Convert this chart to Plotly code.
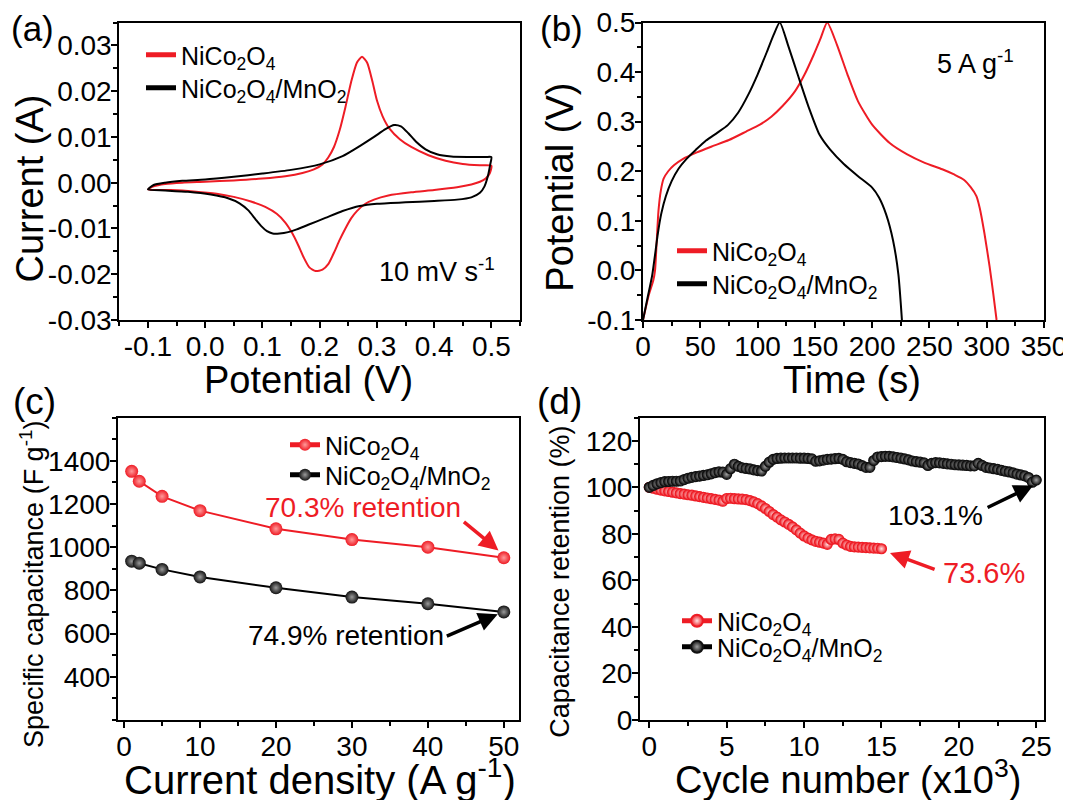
import plotly.graph_objects as go

# ---------------- data ----------------
# (a) CV curves at 10 mV/s
cv_red_fwd_v = [-0.100, -0.090, -0.070, -0.040, 0.000, 0.050, 0.100, 0.140, 0.170, 0.190, 0.205, 0.215, 0.225, 0.235, 0.245, 0.255, 0.265, 0.274, 0.283, 0.292, 0.300, 0.310, 0.322, 0.340, 0.360, 0.390, 0.420, 0.450, 0.480, 0.500]
cv_red_fwd_i = [-0.0015, -0.0008, -0.0003, 0.0000, 0.0002, 0.0005, 0.0009, 0.0014, 0.0021, 0.0029, 0.0040, 0.0055, 0.0078, 0.0115, 0.0165, 0.0220, 0.0262, 0.0275, 0.0262, 0.0222, 0.0180, 0.0145, 0.0118, 0.0095, 0.0078, 0.0060, 0.0048, 0.0041, 0.0038, 0.0037]
cv_red_rev_v = [0.500, 0.497, 0.490, 0.480, 0.465, 0.440, 0.400, 0.360, 0.320, 0.295, 0.280, 0.265, 0.255, 0.245, 0.235, 0.225, 0.215, 0.205, 0.193, 0.182, 0.172, 0.162, 0.152, 0.140, 0.125, 0.105, 0.080, 0.050, 0.020, -0.020, -0.060, -0.100]
cv_red_rev_i = [0.0037, 0.0020, 0.0009, 0.0002, -0.0004, -0.0010, -0.0016, -0.0021, -0.0028, -0.0037, -0.0046, -0.0062, -0.0078, -0.0100, -0.0125, -0.0153, -0.0178, -0.0190, -0.0193, -0.0185, -0.0163, -0.0135, -0.0110, -0.0087, -0.0068, -0.0053, -0.0041, -0.0031, -0.0024, -0.0019, -0.0016, -0.0015]
cv_blk_fwd_v = [-0.100, -0.090, -0.070, -0.040, 0.000, 0.050, 0.100, 0.150, 0.200, 0.240, 0.270, 0.295, 0.315, 0.330, 0.342, 0.355, 0.368, 0.385, 0.405, 0.430, 0.460, 0.490, 0.500]
cv_blk_fwd_i = [-0.0015, -0.0005, 0.0000, 0.0004, 0.0007, 0.0013, 0.0020, 0.0028, 0.0040, 0.0058, 0.0080, 0.0100, 0.0117, 0.0126, 0.0123, 0.0108, 0.0090, 0.0073, 0.0062, 0.0057, 0.0056, 0.0056, 0.0056]
cv_blk_rev_v = [0.500, 0.498, 0.494, 0.488, 0.480, 0.465, 0.440, 0.400, 0.350, 0.300, 0.270, 0.240, 0.210, 0.180, 0.160, 0.145, 0.130, 0.118, 0.108, 0.098, 0.088, 0.075, 0.060, 0.040, 0.010, -0.030, -0.070, -0.100]
cv_blk_rev_i = [0.0055, 0.0040, 0.0015, -0.0008, -0.0022, -0.0032, -0.0037, -0.0040, -0.0043, -0.0046, -0.0051, -0.0062, -0.0077, -0.0092, -0.0102, -0.0108, -0.0111, -0.0111, -0.0106, -0.0095, -0.0080, -0.0060, -0.0045, -0.0034, -0.0026, -0.0020, -0.0017, -0.0015]

# (b) GCD curves at 5 A/g
gcd_red_t = [0, 5, 9, 10.5, 12, 13.5, 15.5, 18, 22, 27, 35, 47, 60, 75, 90, 102, 112, 122, 132.6, 141, 149, 155, 160.8, 169.3, 178.5, 187.7, 200, 215.3, 230.6, 245.9, 261.2, 272, 280, 286, 291, 294, 298, 302.5, 305.6, 308.6]
gcd_red_v = [-0.1, -0.05, -0.02, 0.0, 0.06, 0.12, 0.16, 0.185, 0.2, 0.212, 0.225, 0.238, 0.25, 0.263, 0.28, 0.294, 0.31, 0.332, 0.361, 0.395, 0.435, 0.468, 0.5, 0.455, 0.395, 0.341, 0.294, 0.257, 0.234, 0.217, 0.204, 0.193, 0.183, 0.168, 0.150, 0.125, 0.075, 0.008, -0.045, -0.1]
gcd_blk_t = [0, 4, 8, 11, 13, 16, 20, 25, 31, 38, 46, 55, 65, 74, 83, 92, 100, 108, 114, 119.4, 126.5, 135.6, 144.8, 154, 163.2, 175.5, 187.7, 200, 206, 212.2, 218.3, 222.9, 226]
gcd_blk_v = [-0.1, -0.055, -0.01, 0.04, 0.075, 0.115, 0.15, 0.18, 0.205, 0.225, 0.243, 0.262, 0.278, 0.293, 0.318, 0.355, 0.395, 0.44, 0.475, 0.5, 0.455, 0.391, 0.328, 0.274, 0.244, 0.214, 0.19, 0.167, 0.147, 0.113, 0.06, -0.008, -0.1]

# (c) rate capability
current_density = [1, 2, 5, 10, 20, 30, 40, 50]
cap_red = [1351, 1305, 1235, 1169, 1085, 1035, 1000, 951]
cap_blk = [935, 926, 897, 862, 812, 769, 738, 700]

# (d) cycling stability (x1000 cycles)
cyc_red_x = [i * 0.25 for i in range(61)]
cyc_red_y = [100.0, 99.6, 99.2, 98.8, 98.5, 98.2, 97.9, 97.6, 97.3, 97.1,
             96.8, 96.6, 96.3, 96.0, 95.7, 95.4, 95.1, 94.8, 94.5, 94.0,
             95.2, 95.3, 95.1, 95.0, 94.9, 94.7, 94.3, 93.7, 93.0, 92.0,
             90.9, 89.6, 88.3, 87.2, 86.0, 85.1, 84.1, 83.0, 81.7, 80.3,
             79.1, 78.2, 77.4, 76.8, 76.4, 76.0, 75.5, 77.6, 77.8, 77.6,
             76.0, 75.2, 74.6, 74.4, 74.3, 74.2, 74.1, 74.0, 73.9, 73.8, 73.6]
cyc_blk_x = [i * 0.25 for i in range(101)]
cyc_blk_y = [100.0, 100.8, 101.5, 102.0, 102.4, 102.5, 102.6, 102.6, 102.7, 103.3,
             103.9, 104.3, 104.6, 104.8, 105.1, 105.4, 105.8, 106.3, 106.6, 106.5,
             105.6, 108.0, 109.9, 109.0, 108.4, 108.1, 107.9, 107.5, 107.2, 107.0,
             109.0, 110.8, 112.0, 112.4, 112.5, 112.6, 112.6, 112.6, 112.6, 112.5,
             112.5, 112.4, 112.2, 111.2, 111.4, 111.7, 112.0, 112.1, 112.3, 112.4,
             112.0, 111.0, 110.6, 110.3, 110.0, 109.3, 108.6, 108.6, 111.5, 113.0,
             113.2, 113.3, 113.3, 113.1, 112.8, 112.5, 112.2, 111.8, 111.3, 111.0,
             110.8, 110.5, 109.4, 110.3, 110.6, 110.5, 110.3, 110.1, 109.9, 109.7,
             109.6, 109.5, 109.4, 109.2, 109.2, 110.3, 109.4, 108.6, 108.3, 108.0,
             107.7, 107.3, 106.9, 106.6, 106.2, 105.7, 105.3, 104.9, 104.2, 102.2, 103.1]

name_a = "NiCo<sub>2</sub>O<sub>4</sub>"
name_b = "NiCo<sub>2</sub>O<sub>4</sub>/MnO<sub>2</sub>"

RED = "#ee1c25"
BLK = "#000000"
FONT = "Liberation Sans, Arial, sans-serif"
W, H = 1071, 800
OFF = 8  # page body margin offset


def px(x):
    return (x - OFF) / W


def py(y):
    return 1 - (y - OFF) / H


fig = go.Figure()

# (a)
fig.add_trace(go.Scatter(x=cv_red_fwd_v + cv_red_rev_v[1:], y=cv_red_fwd_i + cv_red_rev_i[1:],
                         mode="lines", line=dict(color=RED, width=2, shape="spline", smoothing=0.6),
                         name=name_a, xaxis="x", yaxis="y", legend="legend"))
fig.add_trace(go.Scatter(x=cv_blk_fwd_v + cv_blk_rev_v[1:], y=cv_blk_fwd_i + cv_blk_rev_i[1:],
                         mode="lines", line=dict(color=BLK, width=2, shape="spline", smoothing=0.6),
                         name=name_b, xaxis="x", yaxis="y", legend="legend2"))
# (b)
fig.add_trace(go.Scatter(x=gcd_red_t, y=gcd_red_v, mode="lines",
                         line=dict(color=RED, width=2, shape="spline", smoothing=0.6),
                         name=name_a, xaxis="x2", yaxis="y2", legend="legend3"))
fig.add_trace(go.Scatter(x=gcd_blk_t, y=gcd_blk_v, mode="lines",
                         line=dict(color=BLK, width=2, shape="spline", smoothing=0.6),
                         name=name_b, xaxis="x2", yaxis="y2", legend="legend4"))
# (c)
fig.add_trace(go.Scatter(x=current_density, y=cap_red, mode="lines+markers",
                         line=dict(color=RED, width=2),
                         marker=dict(size=13, color=RED, gradient=dict(type="radial", color="#ff9a9a"),
                                     line=dict(width=0)),
                         name=name_a, xaxis="x3", yaxis="y3", legend="legend5"))
fig.add_trace(go.Scatter(x=current_density, y=cap_blk, mode="lines+markers",
                         line=dict(color=BLK, width=2),
                         marker=dict(size=13, color="#111111", gradient=dict(type="radial", color="#9a9a9a"),
                                     line=dict(width=0)),
                         name=name_b, xaxis="x3", yaxis="y3", legend="legend6"))
# (d)
fig.add_trace(go.Scatter(x=cyc_red_x, y=cyc_red_y, mode="lines+markers",
                         line=dict(color=RED, width=2),
                         marker=dict(size=10, color=RED, gradient=dict(type="radial", color="#ffe0e0"),
                                     line=dict(width=1.2, color=RED)),
                         name=name_a, xaxis="x4", yaxis="y4", legend="legend7"))
fig.add_trace(go.Scatter(x=cyc_blk_x, y=cyc_blk_y, mode="lines+markers",
                         line=dict(color=BLK, width=2),
                         marker=dict(size=10, color="#111111", gradient=dict(type="radial", color="#a0a0a0"),
                                     line=dict(width=1.2, color="#111111")),
                         name=name_b, xaxis="x4", yaxis="y4", legend="legend8"))


def axis(domain, rng, tickvals, ticktext, minor_dtick, minor_tick0, anchor):
    return dict(domain=domain, range=rng, anchor=anchor, automargin=False,
                tickmode="array", tickvals=tickvals, ticktext=ticktext,
                ticks="outside", ticklen=6, tickwidth=2, tickcolor="black",
                ticklabeloverflow="allow", ticklabelstandoff=-6,
                minor=dict(ticks="outside", ticklen=4, tickwidth=2, tickcolor="black",
                           dtick=minor_dtick, tick0=minor_tick0),
                showline=True, linecolor="black", linewidth=2, mirror=True,
                showgrid=False, zeroline=False,
                tickfont=dict(size=28, color="black", family=FONT))


def fmt(vals, nd):
    return [("%.*f" % (nd, v)).replace("-0." + "0" * nd, "0." + "0" * nd) for v in vals]


xa_vals = [-0.1, 0.0, 0.1, 0.2, 0.3, 0.4, 0.5]
ya_vals = [-0.03, -0.02, -0.01, 0.0, 0.01, 0.02, 0.03]
xb_vals = [0, 50, 100, 150, 200, 250, 300, 350]
yb_vals = [-0.1, 0.0, 0.1, 0.2, 0.3, 0.4, 0.5]
xc_vals = [0, 10, 20, 30, 40, 50]
yc_vals = [400, 600, 800, 1000, 1200, 1400]
xd_vals = [0, 5, 10, 15, 20, 25]
yd_vals = [0, 20, 40, 60, 80, 100, 120]

dom_a_x = [px(119.3), px(520)]
dom_b_x = [px(643), px(1044)]
dom_c_x = [px(118), px(519)]
dom_d_x = [px(640), px(1044)]
dom_top_y = [py(320), py(22.5)]
dom_bot_y = [py(720), py(417.5)]

fig.update_layout(
    xaxis=axis(dom_a_x, [-0.15, 0.55], xa_vals, fmt(xa_vals, 1), 0.05, 0, "y"),
    yaxis=axis(dom_top_y, [-0.03, 0.035], ya_vals, fmt(ya_vals, 2), 0.005, 0, "x"),
    xaxis2=axis(dom_b_x, [0, 350], xb_vals, [str(v) for v in xb_vals], 25, 0, "y2"),
    yaxis2=axis(dom_top_y, [-0.1, 0.5], yb_vals, fmt(yb_vals, 1), 0.05, 0, "x2"),
    xaxis3=axis(dom_c_x, [-0.8, 52], xc_vals, [str(v) for v in xc_vals], 5, 0, "y3"),
    yaxis3=axis(dom_bot_y, [200, 1600], yc_vals, [str(v) for v in yc_vals], 100, 0, "x3"),
    xaxis4=axis(dom_d_x, [-0.6, 25.5], xd_vals, [str(v) for v in xd_vals], 2.5, 0, "y4"),
    yaxis4=axis(dom_bot_y, [0, 130], yd_vals, [str(v) for v in yd_vals], 10, 0, "x4"),
)


def legend(x_text, y_row):
    # one legend entry per box: x of text start, y of row centre (page pixels)
    return dict(x=px(x_text - 41), y=py(y_row - 22), xanchor="left", yanchor="top",
                bgcolor="rgba(0,0,0,0)", font=dict(size=25, color="black", family=FONT),
                itemwidth=30, tracegroupgap=0, itemsizing="constant")


fig.update_layout(
    legend=legend(182, 54), legend2=legend(182, 87),
    legend3=legend(713, 250), legend4=legend(713, 283),
    legend5=legend(326, 444), legend6=legend(326, 474),
    legend7=legend(718, 620), legend8=legend(718, 646),
)

ann = []


def text_px(x, y, t, size, angle=0, color="black"):
    ann.append(dict(x=px(x), y=py(y), xref="paper", yref="paper", text=t, showarrow=False,
                    xanchor="center", yanchor="middle", textangle=angle,
                    font=dict(size=size, color=color, family=FONT)))


def text_data(xr, yr, x, y, t, size, color="black"):
    ann.append(dict(x=x, y=y, xref=xr, yref=yr, text=t, showarrow=False,
                    xanchor="center", yanchor="middle", font=dict(size=size, color=color, family=FONT)))


def arrow(xr, yr, x0, y0, x1, y1, color):
    ann.append(dict(x=x1, y=y1, ax=x0, ay=y0, xref=xr, yref=yr, axref=xr, ayref=yr, text="",
                    showarrow=True, arrowhead=2, arrowsize=1.1, arrowwidth=3.5, arrowcolor=color,
                    standoff=0, startstandoff=0))


# panel labels
text_px(32.6, 29, "(a)", 35)
text_px(561, 29, "(b)", 35)
text_px(34, 402, "(c)", 37)
text_px(560, 402, "(d)", 37)

# axis titles
text_px(308.8, 380, "Potential (V)", 38)
text_px(30, 188.5, "Current (A)", 38, -90)
text_px(851.8, 380, "Time (s)", 38)
text_px(560, 186.7, "Potential (V)", 38, -90)
text_px(319.6, 777, "Current density (A g<sup>-1</sup>)", 40)
text_px(32, 585, "Specific capacitance (F g<sup>-1</sup>)", 27, -90)
text_px(847.6, 777, "Cycle number (x10<sup>3</sup>)", 38)
text_px(560, 581.7, "Capacitance retention (%)", 27, -90)

# in-plot texts
text_data("x", "y", 0.405, -0.0190, "10 mV s<sup>-1</sup>", 27)
text_data("x2", "y2", 290, 0.420, "5 A g<sup>-1</sup>", 27)
text_data("x3", "y3", 31.5, 1185, "70.3% retention", 28, RED)
text_data("x3", "y3", 29.2, 592, "74.9% retention", 28)
text_data("x4", "y4", 18.5, 87.9, "103.1%", 28)
text_data("x4", "y4", 21.65, 63.1, "73.6%", 29, RED)

arrow("x3", "y3", 44.55, 1123, 49.3, 985, RED)
arrow("x3", "y3", 42.3, 585, 49.2, 690, BLK)
arrow("x4", "y4", 21.76, 91.0, 24.8, 100.8, BLK)
arrow("x4", "y4", 18.53, 64.5, 15.55, 71.8, RED)

fig.update_layout(annotations=ann, width=W, height=H,
                  margin=dict(l=0, r=0, t=0, b=0, autoexpand=False),
                  paper_bgcolor="white", plot_bgcolor="white",
                  font=dict(family=FONT, color="black"), showlegend=True)

fig.write_html("out.html")
